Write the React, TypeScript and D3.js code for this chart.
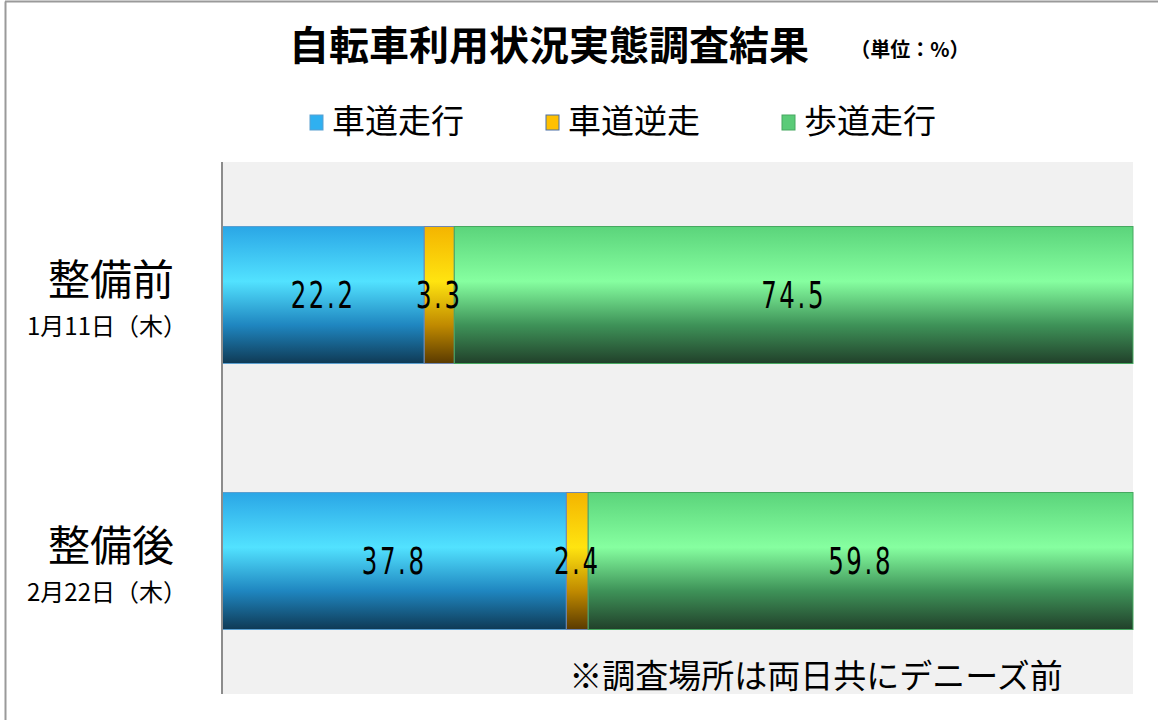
import React from "react";
import * as d3 from "d3";

const categories = ["整備前", "整備後"];
const dates = ["1月11日（木）", "2月22日（木）"];
const seriesNames = ["車道走行", "車道逆走", "歩道走行"];
const roadway = [22.2, 37.8];
const wrongWay = [3.3, 2.4];
const sidewalk = [74.5, 59.8];

const W = 1158;
const H = 720;

// gradient stops per series: top, highlight, lower, bottom
const gradients = [
  { id: "g-blue", stops: ["#2aa6e6", "#52e2ff", "#1f86c0", "#0f3a55"], edge: "#5a9fd0", key: "#2fb0f0" },
  { id: "g-orange", stops: ["#f4b400", "#ffe410", "#c08a00", "#5a3a00"], edge: "#6f86b0", key: "#ffc000" },
  { id: "g-green", stops: ["#5bd47b", "#86ffa0", "#3e9258", "#21402a"], edge: "#46a860", key: "#5acb78" },
];

const numFont = "'DejaVu Sans', sans-serif";
const jpFont = "'Noto Sans CJK JP', sans-serif";

export default function App() {
  const x = d3.scaleLinear().domain([0, 100]).range([222, 1133]);
  const y = d3
    .scaleBand<string>()
    .domain(categories)
    .range([162, 694])
    .paddingInner(0.485)
    .paddingOuter(0.2425);

  const rows = categories.map((c, i) => ({
    cat: c,
    roadway: roadway[i],
    wrongWay: wrongWay[i],
    sidewalk: sidewalk[i],
  }));
  const stack = d3.stack<any>().keys(["roadway", "wrongWay", "sidewalk"]);
  const layers = stack(rows);

  const legendX = [310, 546, 782];

  return (
    <div style={{ position: "absolute", left: 0, top: 0 }}>
      <svg width={W} height={H} style={{ display: "block", background: "#fff" }}>
        <defs>
          {gradients.map((g) => (
            <linearGradient key={g.id} id={g.id} x1="0" y1="0" x2="0" y2="1">
              <stop offset="0" stopColor={g.stops[0]} />
              <stop offset="0.4" stopColor={g.stops[1]} />
              <stop offset="0.72" stopColor={g.stops[2]} />
              <stop offset="1" stopColor={g.stops[3]} />
            </linearGradient>
          ))}
        </defs>

        {/* outer frame */}
        <line x1={5.5} y1={1.5} x2={5.5} y2={H} stroke="#9a9a9a" strokeWidth={2} />
        <line x1={5} y1={1.5} x2={W} y2={1.5} stroke="#9a9a9a" strokeWidth={2} />

        {/* title */}
        <text x={549} y={60} textAnchor="middle" fontFamily={jpFont} fontWeight="bold" fontSize={40} fill="#000">
          自転車利用状況実態調査結果
        </text>
        <text x={910} y={57} textAnchor="middle" fontFamily={jpFont} fontWeight="bold" fontSize={20} fill="#000">
          （単位：%）
        </text>

        {/* legend */}
        {seriesNames.map((s, i) => (
          <g key={s}>
            <rect x={legendX[i]} y={115} width={13} height={15} fill={gradients[i].key} stroke={i === 1 ? "#4a6fa5" : gradients[i].edge} strokeWidth={1} />
            <text x={legendX[i] + 22} y={133} fontFamily={jpFont} fontSize={33} fill="#000">
              {s}
            </text>
          </g>
        ))}

        {/* plot area */}
        <rect x={222} y={162} width={911} height={532} fill="#f1f1f1" />

        {layers.map((layer, li) =>
          layer.map((d, di) => (
            <rect
              key={`${li}-${di}`}
              x={x(d[0])}
              y={y(categories[di])}
              width={x(d[1]) - x(d[0])}
              height={y.bandwidth()}
              fill={`url(#${gradients[li].id})`}
              stroke={gradients[li].edge}
              strokeWidth={1}
            />
          ))
        )}

        {/* axis line */}
        <line x1={222} y1={162} x2={222} y2={694} stroke="#8c8c8c" strokeWidth={2} />

        {/* value labels, condensed like the original half-width font */}
        {layers.map((layer, li) =>
          layer.map((d, di) => {
            const cx = (x(d[0]) + x(d[1])) / 2;
            const cy = (y(categories[di]) as number) + y.bandwidth() / 2 + 13;
            return (
              <text
                key={`l-${li}-${di}`}
                transform={`translate(${cx},${cy}) scale(0.66,1)`}
                textAnchor="middle"
                fontFamily={numFont}
                fontSize={37}
                letterSpacing={4}
                fill="#000"
              >
                {(d[1] - d[0]).toFixed(1)}
              </text>
            );
          })
        )}

        {/* category labels */}
        {categories.map((c, i) => {
          const cy = (y(c) as number) + y.bandwidth() / 2;
          return (
            <g key={c}>
              <text x={111} y={cy} textAnchor="middle" fontFamily={jpFont} fontSize={42} fill="#000">
                {c}
              </text>
              <text x={107} y={cy + 40} textAnchor="middle" fontFamily={jpFont} fontSize={24} fill="#000">
                {dates[i]}
              </text>
            </g>
          );
        })}

        {/* footnote */}
        <text x={816} y={688} textAnchor="middle" fontFamily={jpFont} fontSize={33} fill="#000">
          ※調査場所は両日共にデニーズ前
        </text>
      </svg>
    </div>
  );
}
